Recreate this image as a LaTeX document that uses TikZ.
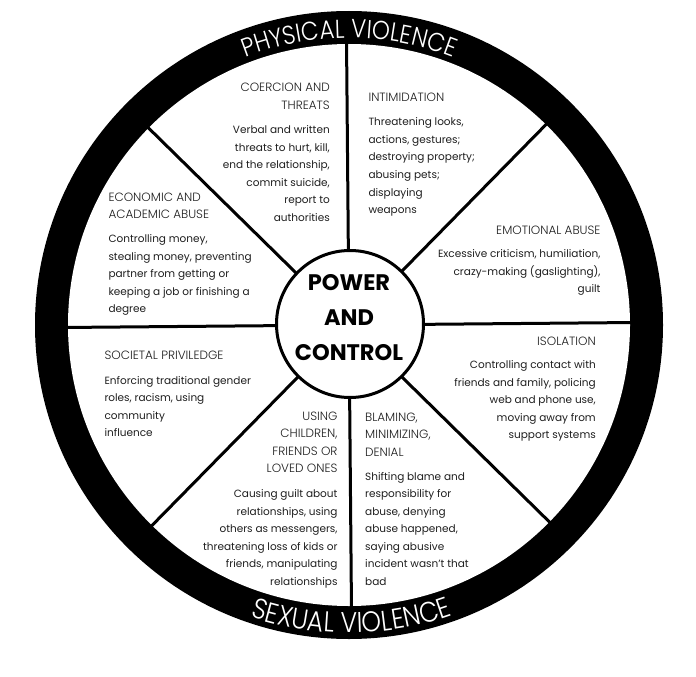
\documentclass[tikz,border=0pt]{standalone}
\usepackage{fontspec}
\setmainfont{Poppins}
\IfFontExistsTF{Poppins Light}{%
  \newfontfamily\lightfont{Poppins Light}%
  \newfontfamily\ringfont[FakeStretch=0.88]{Poppins Light}}{%
  \newfontfamily\lightfont{Poppins}%
  \newfontfamily\ringfont[FakeStretch=0.88]{Poppins}}
\usetikzlibrary{decorations.text}
\newcommand{\bodysize}{\fontsize{10.5}{17.5}\selectfont}
\newcommand{\hd}[1]{{\lightfont\fontsize{12}{17.5}\selectfont #1}}
\tikzset{
  blkL/.style={anchor=base west, inner sep=0pt, font=\bodysize, text=black!88},
  blkR/.style={anchor=base east, inner sep=0pt, font=\bodysize, text=black!88},
  spoke/.style={line width=3pt, black},
  hub/.style={circle, draw=black, line width=3pt, fill=white, minimum size=147pt, inner sep=0pt},
}
\begin{document}
\begin{tikzpicture}[x=1pt,y=1pt]
\useasboundingbox (0,0) rectangle (696,-677);
\fill[white] (0,0) rectangle (696,-677);
\coordinate (C) at (349,-325);
\fill[black] (C) circle[radius=314];
\fill[white] (C) circle[radius=281];
\foreach \a in {0,45,...,315}
  \draw[spoke] ([shift={(\a+0.5:73)}]C) -- ([shift={(\a+0.5:282)}]C);
\node[hub] (hub) at (350,-324) {};
\node[anchor=base, inner sep=0pt, font=\bfseries\fontsize{22.5}{35}\selectfont] (hubtext) at (349,-290)
  {\begin{tabular}[t]{@{}c@{}}POWER\\AND\\CONTROL\end{tabular}};
% ring texts
\path[decorate, decoration={text along path, text align=center,
  text={|\ringfont\fontsize{26}{26}\selectfont\color{white}|PHYSICAL VIOLENCE}}]
  ([shift={(125:287)}]C) arc[start angle=125, end angle=55, radius=287];
\path[decorate, decoration={text along path, text align=center,
  text={|\ringfont\fontsize{28.5}{28.5}\selectfont\color{white}|SEXUAL VIOLENCE}}]
  ([shift={(235.5:308)}]C) arc[start angle=235.5, end angle=305.5, radius=308];
% blocks
\node[blkR] (coercion) at (330,-91.7) {\begin{tabular}[t]{@{}r@{}}\hd{COERCION AND}\\\hd{THREATS}\\[6.8pt]
  Verbal and written\\threats to hurt, kill,\\end the relationship,\\commit suicide,\\report to\\authorities\end{tabular}};
\node[blkL] (economic) at (108.3,-201) {\begin{tabular}[t]{@{}l@{}}\hd{ECONOMIC AND}\\\hd{ACADEMIC ABUSE}\\[6.8pt]
  Controlling money,\\stealing money, preventing\\partner from getting or\\keeping a job or finishing a\\degree\end{tabular}};
\node[blkL] (intimidation) at (368.3,-101.7) {\begin{tabular}[t]{@{}l@{}}\hd{INTIMIDATION}\\[6.8pt]
  Threatening looks,\\actions, gestures;\\destroying property;\\abusing pets;\\displaying\\weapons\end{tabular}};
\node[blkR] (emotional) at (600.7,-234) {\begin{tabular}[t]{@{}r@{}}\hd{EMOTIONAL ABUSE}\\[6.3pt]
  Excessive criticism, humiliation,\\crazy-making (gaslighting),\\guilt\end{tabular}};
\node[blkR] (isolation) at (596,-345) {\begin{tabular}[t]{@{}r@{}}\hd{ISOLATION}\\[6pt]
  Controlling contact with\\friends and family, policing\\web and phone use,\\moving away from\\support systems\end{tabular}};
\node[blkL] (blaming) at (365,-421) {\begin{tabular}[t]{@{}l@{}}\hd{BLAMING,}\\\hd{MINIMIZING,}\\\hd{DENIAL}\\[6.5pt]
  Shifting blame and\\responsibility for\\abuse, denying\\abuse happened,\\saying abusive\\incident wasn't that\\bad\end{tabular}};
\node[blkL] (societal) at (104.3,-359.3) {\begin{tabular}[t]{@{}l@{}}\hd{SOCIETAL PRIVILEDGE}\\[7.5pt]
  Enforcing traditional gender\\roles, racism, using\\community\\influence\end{tabular}};
\node[blkR] (using) at (337.7,-420) {\begin{tabular}[t]{@{}r@{}}\hd{USING}\\\hd{CHILDREN,}\\\hd{FRIENDS OR}\\\hd{LOVED ONES}\\[7.5pt]
  Causing guilt about\\relationships, using\\others as messengers,\\threatening loss of kids or\\friends, manipulating\\relationships\end{tabular}};
\end{tikzpicture}
\end{document}
